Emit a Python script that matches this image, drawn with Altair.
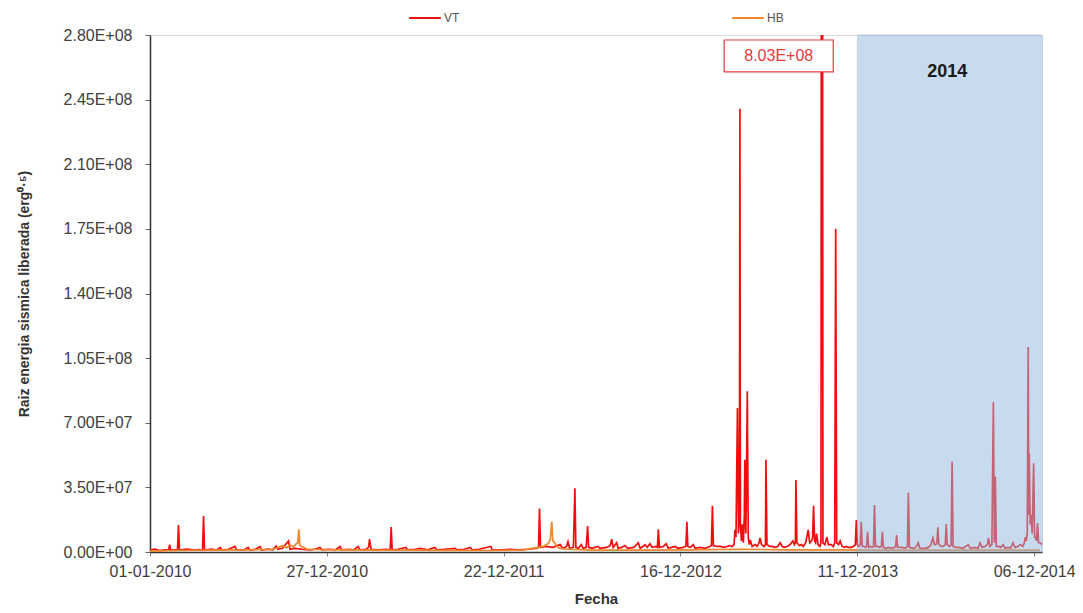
import altair as alt
import pandas as pd

# ---------------- data ----------------
# x = days since 01-01-2010, value in millions of erg^0.5
X_TICK_DAYS = [0, 360, 720, 1080, 1440, 1800]
Y_TICKS = [0, 3.5e7, 7.0e7, 1.05e8, 1.40e8, 1.75e8, 2.10e8, 2.45e8, 2.80e8]
X_MAX = 1816
Y_MAX = 2.8e8

VT_2010 = [(0, 1.0), (10, 1.5), (20, 0.8), (30, 1.2), (38, 1.0), (40, 4.0), (42, 1.0), (50, 1.2),
           (56, 1.0), (58, 14.6), (60, 1.0), (75, 1.5), (90, 1.0), (100, 1.3), (107, 1.0), (109, 19.5),
           (111, 1.0), (125, 1.5), (135, 1.0), (143, 2.5), (146, 1.0), (160, 1.5), (173, 3.0), (176, 1.2),
           (190, 1.0), (200, 2.5), (203, 1.0), (215, 1.5), (224, 3.0), (227, 1.0), (240, 1.5), (250, 1.2),
           (257, 3.2), (260, 1.5), (270, 2.0), (282, 6.0), (285, 1.5), (295, 2.0), (310, 1.5), (325, 1.2),
           (335, 1.5), (346, 2.5), (350, 1.2)]
VT_2011 = [(365, 1.5), (378, 1.2), (387, 3.0), (390, 1.2), (405, 1.5), (415, 1.2), (424, 3.0), (427, 1.2),
           (440, 1.5), (445, 2.5), (447, 7.0), (450, 1.5), (465, 1.2), (480, 1.5), (489, 1.2), (491, 13.5),
           (493, 1.2), (505, 1.5), (521, 2.5), (524, 1.2), (540, 1.5), (550, 2.0), (565, 1.2), (580, 2.5),
           (584, 1.2), (600, 1.5), (621, 2.0), (625, 1.2), (640, 1.5), (652, 2.5), (656, 1.2), (670, 1.5),
           (694, 3.0), (697, 1.0), (715, 1.2)]
VT_2012 = [(733, 1.5), (750, 1.2), (770, 1.5), (785, 2.0), (791, 2.5), (793, 23.6), (795, 2.5), (805, 3.0),
           (820, 2.5), (835, 4.0), (840, 2.0), (848, 3.0), (851, 5.6), (854, 2.0), (862, 2.5), (865, 34.5),
           (867, 2.5), (872, 2.0), (878, 4.0), (882, 2.0), (888, 2.5), (891, 14.1), (893, 2.5), (900, 2.0),
           (912, 3.0), (916, 2.0), (930, 2.5), (937, 3.5), (940, 6.9), (943, 2.5), (950, 5.0), (953, 2.0),
           (960, 2.5), (967, 3.5), (972, 2.0), (985, 2.5), (994, 5.0), (998, 2.0), (1003, 3.0), (1008, 4.0),
           (1012, 2.5), (1018, 4.5), (1022, 2.5), (1030, 3.0), (1033, 2.5), (1035, 12.3), (1037, 2.5),
           (1045, 3.0), (1051, 4.5), (1055, 2.0), (1062, 2.5), (1069, 3.0), (1075, 2.0)]
VT_2013 = [(1085, 2.5), (1091, 3.0), (1093, 16.4), (1095, 3.0), (1100, 2.5), (1106, 4.0), (1110, 2.0),
           (1120, 2.5), (1130, 2.0), (1140, 3.0), (1143, 3.5), (1145, 25.0), (1147, 3.5), (1155, 3.0),
           (1161, 3.0), (1168, 2.5), (1175, 3.0), (1179, 3.5), (1185, 3.0), (1189, 4.0), (1191, 12.0),
           (1193, 8.0), (1196, 78.0), (1198, 10.0), (1200, 20.0), (1201, 240.0), (1202, 15.0), (1204, 6.0),
           (1206, 15.0), (1208, 5.0), (1210, 20.0), (1211, 50.0), (1213, 10.0), (1214, 30.0), (1216, 87.0),
           (1218, 8.0), (1220, 4.0), (1222, 6.5), (1226, 3.0), (1232, 4.0), (1236, 3.0), (1240, 5.0),
           (1242, 7.6), (1245, 4.0), (1250, 3.0), (1253, 4.0), (1254, 50.0), (1256, 4.0), (1262, 3.0),
           (1267, 3.0), (1272, 2.5), (1278, 3.0), (1283, 5.0), (1287, 3.0), (1292, 2.5), (1297, 3.0),
           (1303, 4.0), (1309, 6.0), (1312, 4.0), (1314, 5.0), (1315, 39.0), (1317, 5.0), (1322, 3.5),
           (1326, 4.0), (1330, 3.0), (1335, 5.0), (1340, 12.0), (1343, 5.0), (1347, 6.0), (1349, 8.0),
           (1351, 25.0), (1353, 6.0), (1355, 5.0), (1357, 10.0), (1360, 4.0), (1364, 3.0), (1366, 5.0),
           (1368, 803.0), (1370, 5.0), (1374, 4.0), (1378, 8.0), (1381, 4.0), (1387, 4.0), (1391, 3.0),
           (1394, 5.0), (1396, 175.0), (1398, 5.0), (1402, 4.0), (1405, 6.0), (1409, 3.0), (1414, 2.5),
           (1417, 3.0), (1422, 2.5), (1427, 2.5), (1432, 3.0), (1436, 4.0), (1438, 17.3), (1440, 4.0)]
VT_2014 = [(1443, 3.0), (1446, 4.0), (1448, 16.4), (1450, 3.0), (1454, 3.0), (1457, 2.5), (1459, 3.0),
           (1461, 11.0), (1463, 2.5), (1466, 3.0), (1470, 2.5), (1473, 3.0), (1475, 25.4), (1477, 3.0),
           (1482, 3.0), (1486, 2.5), (1489, 3.0), (1491, 11.0), (1493, 2.5), (1498, 2.0), (1503, 2.5),
           (1510, 2.0), (1515, 2.5), (1518, 3.0), (1520, 9.2), (1522, 2.5), (1531, 2.5), (1537, 2.0),
           (1542, 3.0), (1544, 32.1), (1546, 2.5), (1554, 2.0), (1559, 2.5), (1564, 5.0), (1567, 2.0),
           (1578, 2.0), (1585, 2.5), (1590, 4.0), (1594, 7.6), (1597, 4.0), (1600, 4.0), (1602, 5.0),
           (1604, 13.4), (1606, 4.0), (1611, 3.0), (1615, 3.0), (1619, 4.0), (1621, 15.1), (1623, 4.0),
           (1628, 3.0), (1631, 4.0), (1633, 48.9), (1635, 3.0), (1640, 2.5), (1646, 2.5), (1655, 2.0),
           (1666, 4.0), (1670, 2.0), (1680, 2.5), (1686, 2.0), (1690, 5.0), (1694, 2.5), (1700, 3.0),
           (1705, 4.0), (1707, 7.6), (1710, 3.0), (1714, 4.0), (1717, 81.3), (1719, 5.0), (1721, 40.7),
           (1723, 3.0), (1727, 3.0), (1732, 2.5), (1737, 4.0), (1741, 2.0), (1747, 2.5), (1752, 2.0),
           (1757, 5.0), (1761, 2.5), (1767, 3.0), (1772, 4.0), (1777, 3.0), (1780, 5.0), (1782, 8.0),
           (1784, 6.0), (1786, 10.0), (1788, 111.0), (1789, 20.0), (1790, 53.5), (1792, 15.0), (1794, 20.0),
           (1796, 10.0), (1799, 48.0), (1801, 8.0), (1802, 8.0), (1805, 6.0), (1807, 15.7), (1809, 5.0),
           (1812, 5.0), (1816, 4.0)]

HB_POINTS = [(0, 0.5), (60, 0.8), (120, 1.0), (200, 1.2), (250, 1.5), (262, 2.5), (270, 3.5), (278, 2.2),
             (285, 3.8), (292, 2.8), (298, 4.5), (301, 5.0), (303, 12.3), (305, 3.5), (312, 2.5), (320, 1.5),
             (380, 1.2), (450, 1.0), (520, 1.0), (600, 0.9), (700, 0.8), (760, 1.2), (790, 2.5), (800, 3.0),
             (808, 4.0), (812, 5.0), (815, 7.0), (818, 16.4), (820, 6.0), (824, 5.0), (828, 3.0), (835, 2.0),
             (850, 1.5), (900, 1.0), (1000, 1.0), (1100, 1.2), (1200, 1.5), (1300, 1.2), (1400, 1.2),
             (1500, 1.0), (1600, 1.0), (1700, 1.0), (1812, 1.0)]

SERIES = ["VT", "HB"]
COLORS = ["#F20D0D", "#F0852A"]

SHADE_START, SHADE_END = 1440, 1816
PEAK_LABEL = "8.03E+08"
BOX_X = (1169, 1391)
BOX_Y = (2.60e8, 2.773e8)
YEAR_LABEL = "2014"
YEAR_POS = (1623, 2.60e8)

# ---------------- tables ----------------
vt_pts = VT_2010 + VT_2011 + VT_2012 + VT_2013 + VT_2014
vt = pd.DataFrame({"dia": [p[0] for p in vt_pts], "valor": [p[1] * 1e6 for p in vt_pts], "serie": "VT"})
hb = pd.DataFrame({"dia": [p[0] for p in HB_POINTS], "valor": [p[1] * 1e6 for p in HB_POINTS], "serie": "HB"})

FONT = "Liberation Sans"
xscale = alt.Scale(domain=[0, X_MAX], nice=False, zero=False)
yscale = alt.Scale(domain=[0, Y_MAX], nice=False)

y_label_expr = ("datum.value == 0 ? '0.00E+00' : "
                "format(datum.value / pow(10, floor(log(datum.value) / LN10 + 1e-9)), '.2f') + 'E+0' + "
                "floor(log(datum.value) / LN10 + 1e-9)")

x_axis = alt.Axis(values=X_TICK_DAYS, labelExpr="utcFormat(utc(2010, 0, 1 + datum.value), '%d-%m-%Y')",
                  title="Fecha", titleFontWeight="bold", titleFontSize=15, titleFont=FONT,
                  titleColor="#333333", titlePadding=12, labelFont=FONT, labelFontSize=16,
                  labelColor="#404040", tickSize=4, tickColor="#888888", domainColor="#333333",
                  domainWidth=1.5, grid=False, labelPadding=7, labelFlush=False)
y_axis = alt.Axis(values=Y_TICKS, labelExpr=y_label_expr,
                  title="Raiz energia sismica liberada (erg⁰·⁵)", titleFontWeight="bold",
                  titleFontSize=14, titleFont=FONT, titleColor="#333333", titlePadding=32,
                  labelFont=FONT, labelFontSize=16, labelColor="#404040", tickSize=5,
                  tickColor="#666666", domainColor="#333333", domainWidth=1.5, grid=False,
                  labelPadding=13)

color = alt.Color("serie:N", scale=alt.Scale(domain=SERIES, range=COLORS),
                  legend=alt.Legend(title=None, orient="none", legendX=258, legendY=-34,
                                    direction="horizontal", symbolType="stroke", symbolSize=1000,
                                    symbolStrokeWidth=2, labelFont=FONT, labelFontSize=12,
                                    labelColor="#555555", columnPadding=268, labelOffset=2,
                                    padding=0))

vt_line = alt.Chart(vt).mark_line(strokeWidth=1.7, clip=True).encode(
    x=alt.X("dia:Q", scale=xscale, axis=x_axis),
    y=alt.Y("valor:Q", scale=yscale, axis=y_axis),
    color=color,
)
hb_line = alt.Chart(hb).mark_line(strokeWidth=1.7, clip=True).encode(
    x=alt.X("dia:Q", scale=xscale),
    y=alt.Y("valor:Q", scale=yscale),
    color=color,
)

shade_df = pd.DataFrame({"x": [SHADE_START], "x2": [SHADE_END], "y": [0], "y2": [Y_MAX]})
shade = alt.Chart(shade_df).mark_rect(fill="#93B9DF", opacity=0.5, stroke="#7F9DC0",
                                      strokeWidth=1, strokeOpacity=0.8).encode(
    x="x:Q", x2="x2:Q", y="y:Q", y2="y2:Q")

box_df = pd.DataFrame({"x": [BOX_X[0]], "x2": [BOX_X[1]], "y": [BOX_Y[0]], "y2": [BOX_Y[1]],
                       "xm": [(BOX_X[0] + BOX_X[1]) / 2], "ym": [(BOX_Y[0] + BOX_Y[1]) / 2],
                       "t": [PEAK_LABEL]})
box = alt.Chart(box_df).mark_rect(fill="white", stroke="#E8383D", strokeWidth=1.2).encode(
    x="x:Q", x2="x2:Q", y="y:Q", y2="y2:Q")
box_text = alt.Chart(box_df).mark_text(font=FONT, fontSize=16, color="#E8383D", baseline="middle",
                                       align="center").encode(x="xm:Q", y="ym:Q", text="t:N")

year_df = pd.DataFrame({"x": [YEAR_POS[0]], "y": [YEAR_POS[1]], "t": [YEAR_LABEL]})
year_text = alt.Chart(year_df).mark_text(font=FONT, fontSize=18, fontWeight="bold", color="#1A1A1A",
                                         baseline="middle", align="center").encode(
    x="x:Q", y="y:Q", text="t:N")

chart = alt.layer(vt_line, hb_line, shade, box, box_text, year_text).properties(
    width=892, height=517,
    autosize=alt.AutoSizeParams(type="none"),
    padding={"left": 142, "top": 27, "right": 33, "bottom": 55},
).configure_view(stroke="#333333", strokeWidth=1.5).configure(background="white")

chart.save("out.html", embed_options={"renderer": "svg", "actions": False})
